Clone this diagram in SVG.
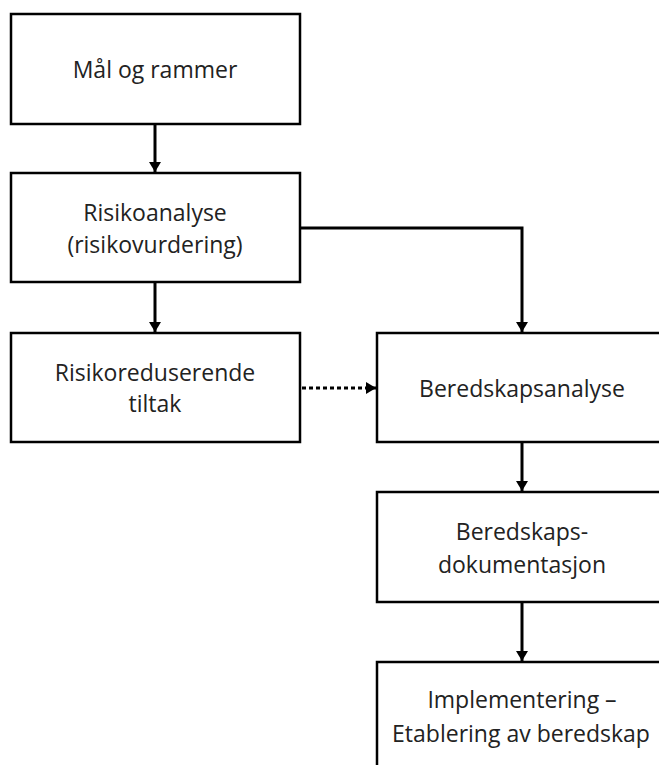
<svg xmlns="http://www.w3.org/2000/svg" width="659" height="765" viewBox="0 0 659 765">
  <style>
    .box { fill: #ffffff; stroke: #000000; stroke-width: 2.5; }
    .lbl { font-family: "Open Sans", "Liberation Sans", sans-serif; font-size: 23px; fill: #222222; text-anchor: middle; }
    .edge { fill: none; stroke: #000000; stroke-width: 3; }
    .dotted { stroke-dasharray: 4 3; }
  </style>
  <defs>
    <marker id="arrow" viewBox="0 0 10 12" refX="10" refY="6" markerWidth="10" markerHeight="12" markerUnits="userSpaceOnUse" orient="auto">
      <path d="M0,0 L10,6 L0,12 Z" fill="#000000"/>
    </marker>
  </defs>
  <rect width="659" height="765" fill="#ffffff"/>

  <g id="connectors">
    <line class="edge" x1="155" y1="124" x2="155" y2="172" marker-end="url(#arrow)"/>
    <line class="edge" x1="155" y1="282" x2="155" y2="332" marker-end="url(#arrow)"/>
    <polyline class="edge" points="300,228 522,228 522,332" marker-end="url(#arrow)"/>
    <line class="edge dotted" x1="302" y1="388" x2="376" y2="388" marker-end="url(#arrow)"/>
    <line class="edge" x1="522" y1="442" x2="522" y2="491" marker-end="url(#arrow)"/>
    <line class="edge" x1="522" y1="602" x2="522" y2="661" marker-end="url(#arrow)"/>
  </g>

  <g id="maal-og-rammer">
    <rect class="box" x="11" y="14" width="289" height="110"/>
    <text class="lbl" x="155" y="78">Mål og rammer</text>
  </g>

  <g id="risikoanalyse">
    <rect class="box" x="11" y="173" width="289" height="109"/>
    <text class="lbl" x="155" y="221">Risikoanalyse</text>
    <text class="lbl" x="155" y="253">(risikovurdering)</text>
  </g>

  <g id="risikoreduserende-tiltak">
    <rect class="box" x="11" y="333" width="289" height="109"/>
    <text class="lbl" x="155" y="381">Risikoreduserende</text>
    <text class="lbl" x="155" y="412">tiltak</text>
  </g>

  <g id="beredskapsanalyse">
    <rect class="box" x="377" y="333" width="300" height="109"/>
    <text class="lbl" x="522" y="397">Beredskapsanalyse</text>
  </g>

  <g id="beredskapsdokumentasjon">
    <rect class="box" x="377" y="492" width="300" height="110"/>
    <text class="lbl" x="522" y="540">Beredskaps-</text>
    <text class="lbl" x="522" y="573">dokumentasjon</text>
  </g>

  <g id="implementering">
    <rect class="box" x="377" y="662" width="300" height="120"/>
    <text class="lbl" x="522" y="708">Implementering –</text>
    <text class="lbl" x="521" y="742">Etablering av beredskap</text>
  </g>
</svg>
